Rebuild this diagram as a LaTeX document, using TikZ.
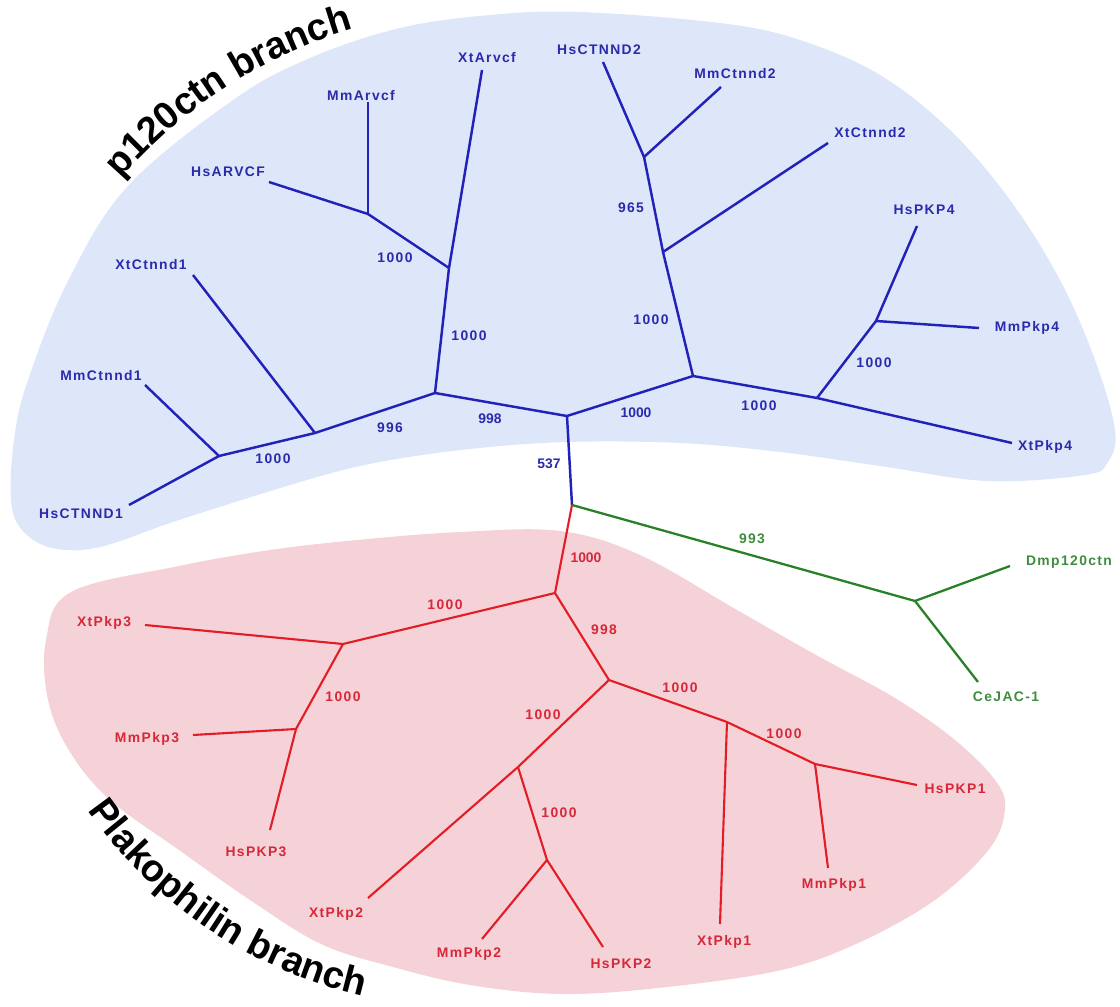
\documentclass[tikz,border=0pt]{standalone}
\usepackage{fontspec}
\setmainfont{Liberation Sans}
\newfontfamily\labfam[LetterSpace=10]{Liberation Sans}
\newfontfamily\titfam{Liberation Sans}
\usetikzlibrary{decorations.text}
\definecolor{bluebg}{RGB}{221,231,249}
\definecolor{blueln}{RGB}{34,34,185}
\definecolor{bluetx}{RGB}{42,42,172}
\definecolor{redbg}{RGB}{245,210,216}
\definecolor{redln}{RGB}{228,28,36}
\definecolor{redtx}{RGB}{214,40,56}
\definecolor{grnln}{RGB}{40,128,40}
\definecolor{grntx}{RGB}{62,140,62}
\newcommand{\labfont}{\labfam\bfseries\fontsize{7.9}{9}\selectfont}
\newcommand{\numfontb}{\titfam\bfseries\fontsize{7.9}{9}\selectfont}
\newcommand{\titlefont}{\titfam\bfseries\fontsize{21.6}{25}\selectfont}
\begin{document}
\begin{tikzpicture}[x=0.02cm,y=-0.02cm,
  bl/.style={draw=blueln, line width=1.4pt, line join=round},
  rl/.style={draw=redln, line width=1.2pt, line join=round},
  gl/.style={draw=grnln, line width=1.3pt, line join=round},
  blab/.style={text=bluetx, font=\labfont, inner sep=0pt},
  bnum/.style={text=bluetx, font=\numfontb, inner sep=0pt},
  rlab/.style={text=redtx, font=\labfont, inner sep=0pt},
  rnum/.style={text=redtx, font=\numfontb, inner sep=0pt},
  glab/.style={text=grntx, font=\labfont, inner sep=0pt}]
\useasboundingbox (0,0) rectangle (1120,1007);
% background regions
\fill[bluebg] plot[smooth cycle, tension=0.6] coordinates {
 (400,28) (490,15) (580,12) (720,23) (800,40) (880,75) (950,130) (1010,200)
 (1060,280) (1095,360) (1115,430) (1108,462) (1085,475) (987,481) (880,466)
 (780,452) (680,443) (567,442) (470,449) (380,462) (307,480) (179,520)
 (100,547) (52,548) (22,530) (11,500) (14,440) (27,383) (67,283) (127,187)
 (233,100) (310,58)};
\fill[redbg] plot[smooth cycle, tension=0.6] coordinates {
 (357,540) (460,532) (560,531) (640,555) (737,610) (816,655) (895,698)
 (955,740) (995,780) (1005,808) (990,848) (935,900) (856,944) (777,971)
 (658,988) (560,994) (470,985) (393,967) (321,944) (250,900) (179,850)
 (110,800) (70,752) (48,700) (46,640) (71,592) (179,566) (270,550)};
% titles
\path[decorate, decoration={text along path, text align=center,
  text={|\titlefont|p120ctn branch}}]
  plot[domain=142.7:102.7, samples=60] ({493+493*cos(\x)},{502-493*sin(\x)});
\path[decorate, decoration={text along path, text align=center,
  text={|\titlefont|Plakophilin branch}}]
  plot[domain=211.0:261.0, samples=60] ({467+463*cos(\x)},{545-463*sin(\x)});
% blue tree coordinates
\coordinate (R) at (567,416);
\coordinate (J) at (572,505);
\coordinate (A1) at (368,214);
\coordinate (A2) at (449,268);
\coordinate (A3) at (435,393);
\coordinate (C1) at (315,433);
\coordinate (C2) at (219,456);
\coordinate (B1) at (693,376);
\coordinate (D1) at (644,157);
\coordinate (D2) at (663,252);
\coordinate (B2) at (817,398);
\coordinate (B3) at (876,321);
\coordinate (eMmArvcf) at (368,102);
\coordinate (eHsARVCF) at (269,182);
\coordinate (eXtArvcf) at (482,70);
\coordinate (eXtCtnnd1) at (193,275);
\coordinate (eMmCtnnd1) at (145,385);
\coordinate (eHsCTNND1) at (129,505);
\coordinate (eHsCTNND2) at (603,62);
\coordinate (eMmCtnnd2) at (721,87);
\coordinate (eXtCtnnd2) at (828,143);
\coordinate (eHsPKP4) at (917,226);
\coordinate (eMmPkp4) at (979,328);
\coordinate (eXtPkp4) at (1012,443);
% green coordinates
\coordinate (G1) at (915,601);
\coordinate (eDmp) at (1010,566);
\coordinate (eCeJAC) at (978,682);
% red coordinates
\coordinate (P1) at (555,593);
\coordinate (P2) at (609,680);
\coordinate (P3) at (343,644);
\coordinate (P4) at (296,729);
\coordinate (P5) at (518,767);
\coordinate (P6) at (547,860);
\coordinate (P7) at (727,722);
\coordinate (P8) at (815,764);
\coordinate (eXtPkp3) at (145,625);
\coordinate (eMmPkp3) at (193,735);
\coordinate (eHsPKP3) at (270,830);
\coordinate (eXtPkp2) at (368,898);
\coordinate (eMmPkp2) at (482,939);
\coordinate (eHsPKP2) at (603,947);
\coordinate (eXtPkp1) at (720,924);
\coordinate (eHsPKP1) at (917,785);
\coordinate (eMmPkp1) at (828,868);
% blue connectors
\draw[bl] (J) -- (R);
\draw[bl] (R) -- (A3);
\draw[bl] (R) -- (B1);
\draw[bl] (A3) -- (A2);
\draw[bl] (A3) -- (C1);
\draw[bl] (A2) -- (A1);
\draw[bl] (A2) -- (eXtArvcf);
\draw[bl] (A1) -- (eMmArvcf);
\draw[bl] (A1) -- (eHsARVCF);
\draw[bl] (C1) -- (eXtCtnnd1);
\draw[bl] (C1) -- (C2);
\draw[bl] (C2) -- (eMmCtnnd1);
\draw[bl] (C2) -- (eHsCTNND1);
\draw[bl] (B1) -- (D2);
\draw[bl] (B1) -- (B2);
\draw[bl] (D2) -- (D1);
\draw[bl] (D2) -- (eXtCtnnd2);
\draw[bl] (D1) -- (eHsCTNND2);
\draw[bl] (D1) -- (eMmCtnnd2);
\draw[bl] (B2) -- (B3);
\draw[bl] (B2) -- (eXtPkp4);
\draw[bl] (B3) -- (eHsPKP4);
\draw[bl] (B3) -- (eMmPkp4);
% green connectors
\draw[gl] (J) -- (G1);
\draw[gl] (G1) -- (eDmp);
\draw[gl] (G1) -- (eCeJAC);
% red connectors
\draw[rl] (J) -- (P1);
\draw[rl] (P1) -- (P3);
\draw[rl] (P1) -- (P2);
\draw[rl] (P3) -- (eXtPkp3);
\draw[rl] (P3) -- (P4);
\draw[rl] (P4) -- (eMmPkp3);
\draw[rl] (P4) -- (eHsPKP3);
\draw[rl] (P2) -- (P5);
\draw[rl] (P2) -- (P7);
\draw[rl] (P5) -- (eXtPkp2);
\draw[rl] (P5) -- (P6);
\draw[rl] (P6) -- (eMmPkp2);
\draw[rl] (P6) -- (eHsPKP2);
\draw[rl] (P7) -- (eXtPkp1);
\draw[rl] (P7) -- (P8);
\draw[rl] (P8) -- (eHsPKP1);
\draw[rl] (P8) -- (eMmPkp1);
% blue leaf labels
\node[blab] (tMmArvcf) at (361,96) {MmArvcf};
\node[blab] (tHsARVCF) at (228,172) {HsARVCF};
\node[blab] (tXtArvcf) at (487,58) {XtArvcf};
\node[blab] (tXtCtnnd1) at (151,265) {XtCtnnd1};
\node[blab] (tMmCtnnd1) at (101,376) {MmCtnnd1};
\node[blab] (tHsCTNND1) at (81,514) {HsCTNND1};
\node[blab] (tHsCTNND2) at (599,50) {HsCTNND2};
\node[blab] (tMmCtnnd2) at (735,74) {MmCtnnd2};
\node[blab] (tXtCtnnd2) at (870,133) {XtCtnnd2};
\node[blab] (tHsPKP4) at (924,210) {HsPKP4};
\node[blab] (tMmPkp4) at (1027,328) {MmPkp4};
\node[blab] (tXtPkp4) at (1045,447) {XtPkp4};
% blue support values
\node[blab] (n1) at (395,258) {1000};
\node[blab] (n2) at (469,336) {1000};
\node[blab] (n3) at (390,428) {996};
\node[blab] (n4) at (273,459) {1000};
\node[bnum] (n5) at (490,419) {998};
\node[bnum] (n6) at (636,413) {1000};
\node[bnum] (n7) at (549,464) {537};
\node[blab] (n8) at (631,208) {965};
\node[blab] (n9) at (651,320) {1000};
\node[blab] (n10) at (759,406) {1000};
\node[blab] (n11) at (874,363) {1000};
% green labels
\node[glab] (tDmp) at (1069,562) {Dmp120ctn};
\node[glab] (tCeJAC) at (1006,697) {CeJAC-1};
\node[glab] (n12) at (752,539) {993};
% red leaf labels
\node[rlab] (tXtPkp3) at (104,623) {XtPkp3};
\node[rlab] (tMmPkp3) at (147,739) {MmPkp3};
\node[rlab] (tHsPKP3) at (256,852) {HsPKP3};
\node[rlab] (tXtPkp2) at (336,914) {XtPkp2};
\node[rlab] (tMmPkp2) at (469,954) {MmPkp2};
\node[rlab] (tHsPKP2) at (621,964) {HsPKP2};
\node[rlab] (tXtPkp1) at (724,942) {XtPkp1};
\node[rlab] (tHsPKP1) at (955,789) {HsPKP1};
\node[rlab] (tMmPkp1) at (834,885) {MmPkp1};
% red support values
\node[rnum] (n13) at (586,558) {1000};
\node[rlab] (n14) at (445,605) {1000};
\node[rlab] (n15) at (343,697) {1000};
\node[rlab] (n16) at (604,630) {998};
\node[rlab] (n17) at (543,715) {1000};
\node[rlab] (n18) at (559,813) {1000};
\node[rlab] (n19) at (680,688) {1000};
\node[rlab] (n20) at (784,734) {1000};
\end{tikzpicture}
\end{document}
